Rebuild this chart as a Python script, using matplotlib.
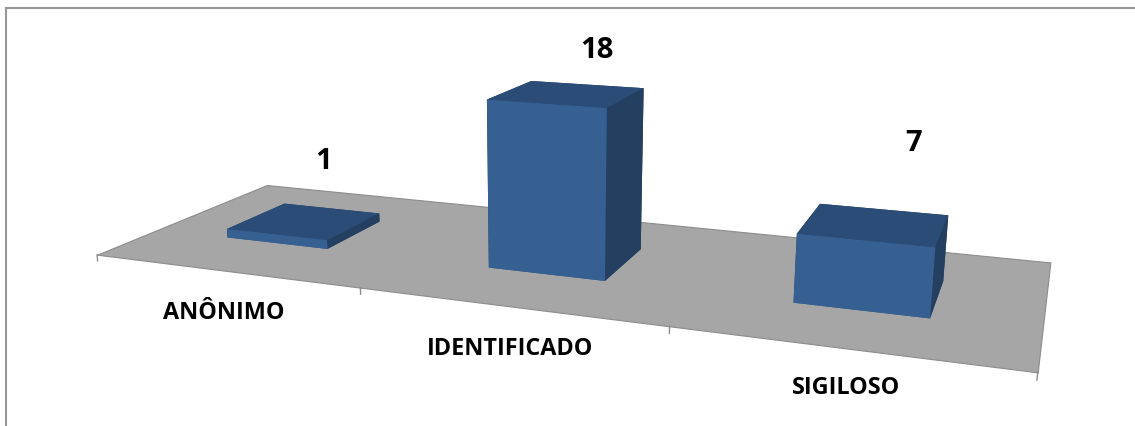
import numpy as np
import matplotlib
matplotlib.use('Agg')
import matplotlib.pyplot as plt
from mpl_toolkits.mplot3d.art3d import Poly3DCollection

categories = ['ANÔNIMO', 'IDENTIFICADO', 'SIGILOSO']
values = [1, 18, 7]

W, H = 1135, 427

plt.rcParams['font.family'] = ['Open Sans', 'DejaVu Sans']

fig = plt.figure(figsize=(W / 100, H / 100), dpi=100, facecolor='white')

# border of the chart area, only top and left are inside the picture
border = '#989898'
fig.add_artist(plt.Line2D([5.5 / W, 1], [1 - 9 / H, 1 - 9 / H], color=border, lw=1.5))
fig.add_artist(plt.Line2D([5.5 / W, 5.5 / W], [0, 1 - 9 / H], color=border, lw=1.5))

# square 3d axes bigger than the figure, the camera centre lands mid picture
S = W
left = 548 - 0.5135 * S
bottom = 213.5 - 0.5135 * S
ax = fig.add_axes([left / W, bottom / H, S / W, S / H], projection='3d')
ax.set_proj_type('persp', focal_length=0.2259)
ax.view_init(elev=14.9, azim=-69, roll=0)
ax.set_xlim(-0.152, 3)
ax.set_ylim(0, 1)
ax.set_zlim(0, 9.83)
ax.set_box_aspect((2.358, 0.79, 0.227), zoom=0.858)
ax.set_axis_off()
ax.patch.set_alpha(0)
ax.computed_zorder = False

# floor
n = len(categories)
floor = Poly3DCollection([[(0, 0, 0), (n, 0, 0), (n, 1, 0), (0, 1, 0)]],
                         facecolor='#a6a6a6', edgecolor='#8c8c8c', linewidth=0.8, zorder=1)
ax.add_collection3d(floor)

# tick marks under the front edge
for t in range(n + 1):
    ax.plot([t, t], [0, 0], [0, -0.7], color='#8c8c8c', lw=1, zorder=2)

# bars: bottom, top, front, back, left, right
faces = ['#2f5480', '#2a4c76', '#376092', '#243f60', '#243f60', '#243f60']
x = np.arange(n) + 0.29
ax.bar3d(x, np.full(n, 0.32), np.zeros(n), 0.4, 0.36, values,
         color=faces * n, shade=False, zorder=3)

# labels
label_pos = [(224, 313), (510, 349), (846, 388)]
for name, (px, py) in zip(categories, label_pos):
    fig.text(px / W, 1 - py / H, name, ha='center', va='center',
             fontsize=16.8, fontweight='bold', color='black')
value_pos = [(324, 162), (597, 50), (914, 144)]
for v, (px, py) in zip(values, value_pos):
    fig.text(px / W, 1 - py / H, str(v), ha='center', va='center',
             fontsize=21, fontweight='bold', color='black')

fig.savefig('out.png', dpi=100)
